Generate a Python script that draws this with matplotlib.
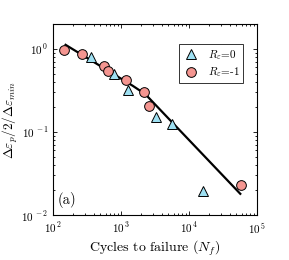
import matplotlib
matplotlib.use("Agg")
import matplotlib.pyplot as plt
import numpy as np
from matplotlib.ticker import LogLocator, FuncFormatter, NullFormatter

plt.rcParams['font.family'] = 'serif'
plt.rcParams['font.serif'] = ['cmr10', 'DejaVu Serif']
plt.rcParams['mathtext.fontset'] = 'cm'
plt.rcParams['axes.formatter.use_mathtext'] = True

# Data
nf_r0 = [362, 797, 1294, 3340, 5740, 15900]
eps_r0 = [0.80, 0.50, 0.317, 0.150, 0.126, 0.0196]
nf_rm1 = [148, 267, 574, 657, 1197, 2178, 2607, 59000]
eps_rm1 = [0.98, 0.87, 0.63, 0.54, 0.427, 0.306, 0.207, 0.0232]
fit_nf = [155, 600, 1500, 2300, 57000]
fit_eps = [1.12, 0.57, 0.36, 0.285, 0.018]

fig = plt.figure(figsize=(2.89, 2.60), dpi=100)
ax = fig.add_axes([0.182, 0.173, 0.707, 0.735])

ax.plot(fit_nf, fit_eps, color='black', lw=1.6, zorder=2)
ax.plot(nf_r0, eps_r0, linestyle='none', marker='^', markersize=7.5,
        markerfacecolor='#9ee0f2', markeredgecolor='black', markeredgewidth=0.7,
        label=r'$R_\varepsilon$=0', zorder=3)
ax.plot(nf_rm1, eps_rm1, linestyle='none', marker='o', markersize=7.0,
        markerfacecolor='#f49590', markeredgecolor='black', markeredgewidth=0.7,
        label=r'$R_\varepsilon$=-1', zorder=3)

ax.set_xscale('log')
ax.set_yscale('log')
ax.set_xlim(1e2, 1e5)
ax.set_ylim(1e-2, 2.0)


def fmt(v, pos):
    e = int(round(np.log10(v)))
    return r'$10^{\,%d}$' % e


ax.xaxis.set_major_locator(LogLocator(base=10, numticks=10))
ax.yaxis.set_major_locator(LogLocator(base=10, numticks=10))
ax.xaxis.set_major_formatter(FuncFormatter(fmt))
ax.yaxis.set_major_formatter(FuncFormatter(fmt))
ax.xaxis.set_minor_formatter(NullFormatter())
ax.yaxis.set_minor_formatter(NullFormatter())

ax.tick_params(which='both', direction='in', top=True, right=True, labelsize=8, width=0.6)
ax.tick_params(which='major', length=3)
ax.tick_params(axis='x', which='major', pad=4)
ax.tick_params(axis='y', which='major', pad=3)
ax.tick_params(which='minor', length=1.6)
for s in ax.spines.values():
    s.set_linewidth(0.8)

ax.set_xlabel(r'Cycles to failure ($N_f$)', fontsize=10, labelpad=2)
ax.set_ylabel(r'$\Delta\varepsilon_p/2/\Delta\varepsilon_{min}$', fontsize=9.5)
ax.yaxis.set_label_coords(-0.16, 0.5)

ax.text(0.025, 0.06, '(a)', transform=ax.transAxes, fontsize=10.5)

leg = ax.legend(loc='upper right', fontsize=8, frameon=True, fancybox=False,
                edgecolor='black', borderpad=0.35, handletextpad=0.8,
                handlelength=1.4, labelspacing=0.35, bbox_to_anchor=(0.96, 0.925))
leg.get_frame().set_linewidth(0.7)

fig.savefig('out.png', dpi=100)
